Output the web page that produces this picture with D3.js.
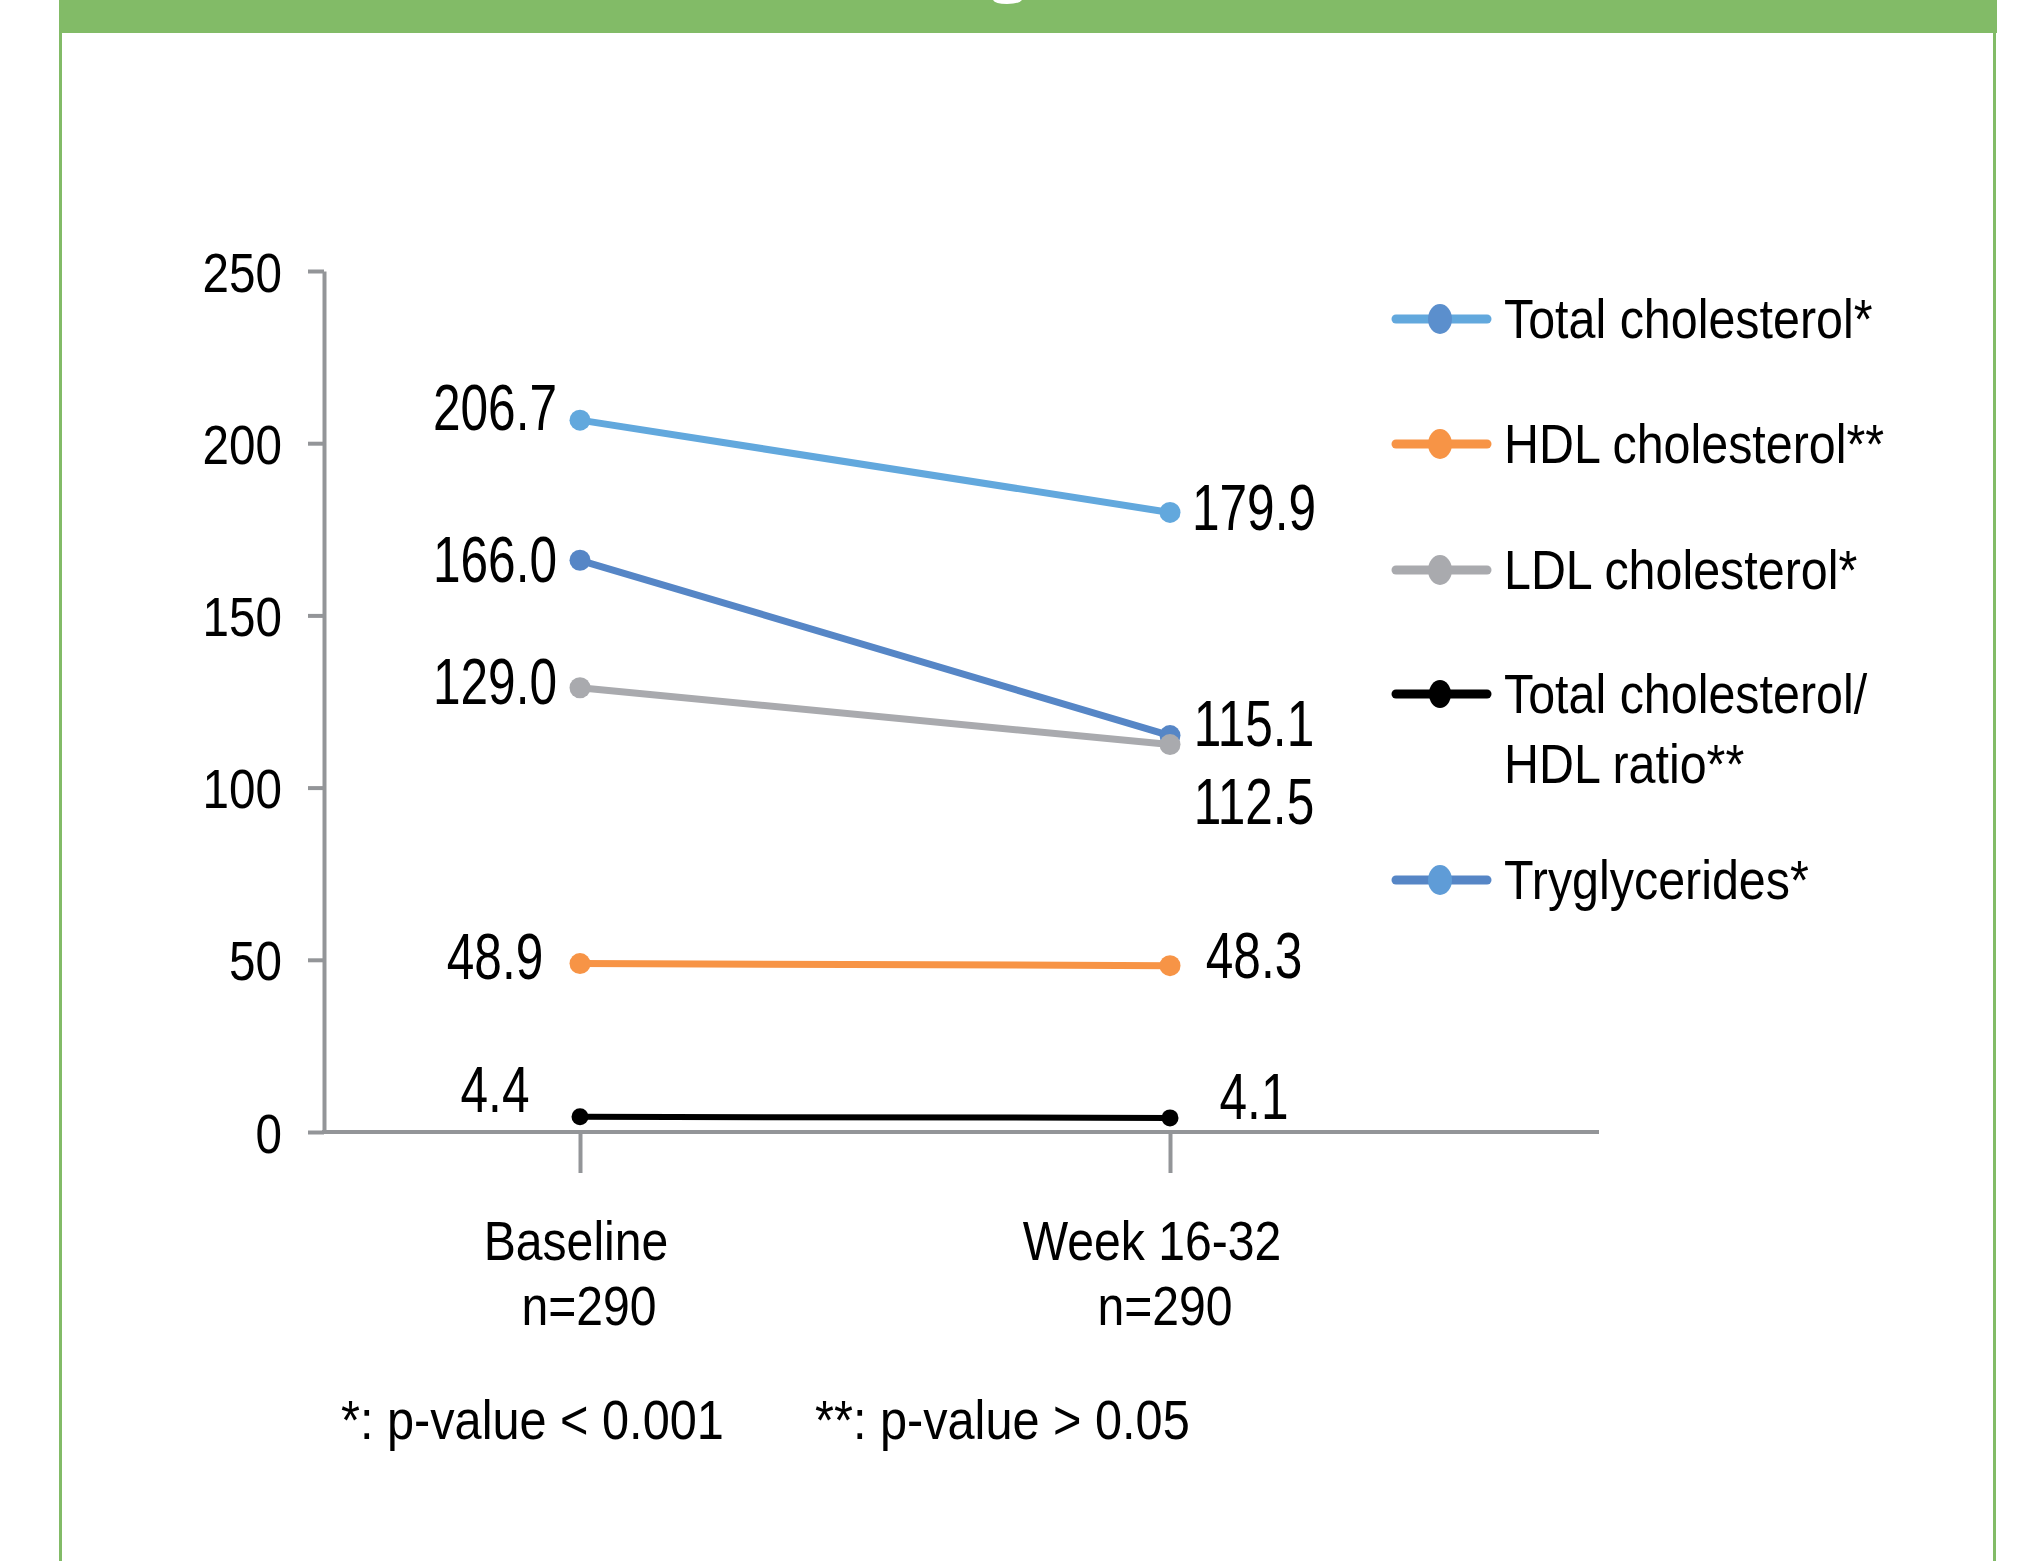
<!DOCTYPE html>
<html>
<head>
<meta charset="utf-8">
<script src="https://cdn.jsdelivr.net/npm/d3@7"></script>
<style>
  html, body { margin: 0; padding: 0; background: #ffffff; }
  svg { display: block; }
  text { font-family: "Liberation Sans", Arial, Helvetica, sans-serif; fill: #000; }
</style>
</head>
<body>
<svg id="chart" width="2018" height="1561"></svg>
<script>
// ---- data ----
const categories = ["Baseline", "Week 16-32"];
const categorySizes = ["n=290", "n=290"];
const yTicks = [0, 50, 100, 150, 200, 250];

const totalCholesterol = [206.7, 179.9];
const hdlCholesterol = [48.9, 48.3];
const ldlCholesterol = [129.0, 112.5];
const cholHdlRatio = [4.4, 4.1];
const triglycerides = [166.0, 115.1];

const seriesNames = [
  ["Total cholesterol*"],
  ["HDL cholesterol**"],
  ["LDL cholesterol*"],
  ["Total cholesterol/", "HDL ratio**"],
  ["Tryglycerides*"]
];
const footnotes = ["*: p-value < 0.001", "**: p-value > 0.05"];

// ---- styling per series (legend order) ----
const series = [
  { name: seriesNames[0], values: totalCholesterol, color: "#62a8dd", legendDot: "#5b8fcd", width: 7, r: 10.5, nudge: [-9, -1] },
  { name: seriesNames[1], values: hdlCholesterol,   color: "#f79446", legendDot: "#f79446", width: 7, r: 10.5, nudge: [-4, -7] },
  { name: seriesNames[2], values: ldlCholesterol,   color: "#a9aaae", legendDot: "#a9aaae", width: 7, r: 10.5, nudge: [-3, 60] },
  { name: seriesNames[3], values: cholHdlRatio,     color: "#000000", legendDot: "#000000", width: 6, r: 8.5, nudge: [-24, -18] },
  { name: seriesNames[4], values: triglycerides,    color: "#5686c6", legendDot: "#5f9cd7", width: 7, r: 10.5, nudge: [3, -9] }
];
// triglycerides sit underneath the other series
const drawOrder = [4, 0, 1, 2, 3];

const svg = d3.select("#chart");
const green = "#82bb67";
const axisGrey = "#939598";

// ---- frame ----
svg.append("rect").attr("x", 0).attr("y", 0).attr("width", 2018).attr("height", 1561).attr("fill", "#ffffff");
svg.append("rect").attr("x", 59).attr("y", 0).attr("width", 1938).attr("height", 33).attr("fill", green);
svg.append("rect").attr("x", 59).attr("y", 0).attr("width", 3).attr("height", 1561).attr("fill", green);
svg.append("rect").attr("x", 1993).attr("y", 0).attr("width", 3).attr("height", 1561).attr("fill", green);
// tail of the heading lettering that reaches into the band
svg.append("path")
  .attr("d", "M993,0 Q995,4 1007,4 Q1019,4 1022,0 Z")
  .attr("fill", "#ffffff");

// ---- scales ----
const x = d3.scalePoint().domain(categories).range([580, 1170]);
const y = d3.scaleLinear().domain([0, 250]).range([1132, 271]);

// text with horizontal condensing around its anchor point
function label(parent, px, py, str, size, sx, anchor) {
  return parent.append("text")
    .attr("transform", `translate(${px},${py}) scale(${sx},1)`)
    .attr("text-anchor", anchor)
    .style("font-size", size + "px")
    .text(str);
}

// ---- y axis ----
const yAxis = svg.append("g")
  .attr("transform", `translate(324,0)`)
  .call(d3.axisLeft(y).tickValues(yTicks).tickSize(16).tickSizeOuter(0).tickFormat(d3.format("d")));
yAxis.select(".domain").attr("stroke", axisGrey).attr("stroke-width", 4);
yAxis.selectAll(".tick line").attr("stroke", axisGrey).attr("stroke-width", 4);
yAxis.selectAll(".tick text").remove();
yAxis.selectAll(".tick").each(function (d) {
  label(d3.select(this), -42, 20, String(d), 56, 0.85, "end");
});

// ---- x axis ----
svg.append("line").attr("x1", 322).attr("x2", 1599).attr("y1", y(0)).attr("y2", y(0))
  .attr("stroke", axisGrey).attr("stroke-width", 4);
const xAxis = svg.append("g")
  .attr("transform", `translate(0,${y(0)})`)
  .call(d3.axisBottom(x).tickSize(41).tickSizeOuter(0));
xAxis.select(".domain").remove();
xAxis.selectAll(".tick line").attr("stroke", axisGrey).attr("stroke-width", 4);
xAxis.selectAll(".tick text").remove();

const catShift = [[-4, 9], [-18, -5]];
categories.forEach((c, i) => {
  label(svg, x(c) + catShift[i][0], 1260, c, 56, 0.86, "middle");
  label(svg, x(c) + catShift[i][1], 1325, categorySizes[i], 56, 0.86, "middle");
});

// ---- lines, markers, value labels ----
const line = d3.line().x((d, i) => x(categories[i])).y(d => y(d));
const plot = svg.append("g");
drawOrder.forEach(k => {
  const s = series[k];
  const g = plot.append("g");
  g.append("path").datum(s.values).attr("d", line)
    .attr("fill", "none").attr("stroke", s.color).attr("stroke-width", s.width)
    .attr("stroke-linecap", "round");
  g.selectAll("circle").data(s.values).join("circle")
    .attr("cx", (d, i) => x(categories[i])).attr("cy", d => y(d))
    .attr("r", s.r).attr("fill", s.color);
});

const labelCenterOffset = [-85, 84];
series.forEach(s => {
  s.values.forEach((v, i) => {
    label(svg, x(categories[i]) + labelCenterOffset[i], y(v) + 19 + s.nudge[i],
      v.toFixed(1), 64, 0.775, "middle");
  });
});

// ---- legend ----
const legendRows = [319, 444, 570, 694, 880];
const legend = svg.append("g");
series.forEach((s, k) => {
  const ly = legendRows[k];
  legend.append("line").attr("x1", 1396).attr("x2", 1487).attr("y1", ly).attr("y2", ly)
    .attr("stroke", s.color).attr("stroke-width", 9).attr("stroke-linecap", "round");
  legend.append("ellipse").attr("cx", 1440).attr("cy", ly)
    .attr("rx", k === 3 ? 11 : 12).attr("ry", k === 3 ? 14 : 15).attr("fill", s.legendDot);
  s.name.forEach((t, j) => {
    label(legend, 1504, ly + 19 + j * 70, t, 55, 0.88, "start");
  });
});

// ---- footnotes ----
label(svg, 341, 1439, footnotes[0], 55, 0.885, "start");
label(svg, 815, 1439, footnotes[1], 55, 0.885, "start");
</script>
</body>
</html>
